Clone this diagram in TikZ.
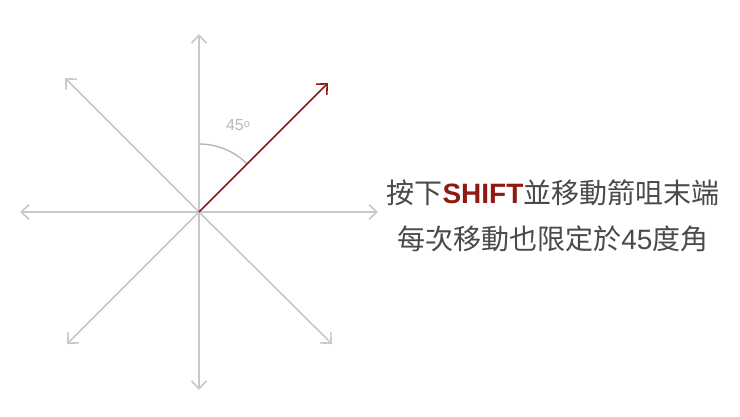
\documentclass[tikz,border=0pt]{standalone}
\usepackage{fontspec}
\setmainfont{Liberation Sans}
\newfontfamily\cjk{Noto Sans CJK TC}
\usetikzlibrary{arrows.meta}
\definecolor{linegray}{HTML}{C8C8C8}
\definecolor{txtgray}{HTML}{4A4A4A}
\definecolor{shiftred}{HTML}{8E1A12}
\definecolor{lblgray}{HTML}{B8B8B8}
\tikzset{
  ray/.style={draw=linegray, line width=1.6pt, -{Straight Barb[length=8pt,width=15pt,line width=1.6pt]}},
  redray/.style={draw=shiftred, line width=1.6pt, -{Straight Barb[length=8pt,width=15pt,line width=1.6pt]}},
  maintext/.style={text=txtgray, font=\fontsize{28}{30}\selectfont, inner sep=0pt, anchor=center},
}
\begin{document}
\begin{tikzpicture}[x=1pt,y=-1pt]
\useasboundingbox (0,0) rectangle (740,416);
\fill[white] (0,0) rectangle (740,416);
\coordinate (c) at (199,212);
\coordinate (n) at (199,34);
\coordinate (s) at (199,390);
\coordinate (w) at (20,212);
\coordinate (e) at (378,212);
\coordinate (nw) at (65,78);
\coordinate (sw) at (67,344);
\coordinate (se) at (332,344);
\coordinate (ne) at (328,83);
\draw[ray] (c) -- (n);
\draw[ray] (c) -- (s);
\draw[ray] (c) -- (w);
\draw[ray] (c) -- (e);
\draw[ray] (c) -- (nw);
\draw[ray] (c) -- (sw);
\draw[ray] (c) -- (se);
\draw[draw=lblgray, line width=1.4pt] ([shift={(0,-68)}]c) arc[start angle=-90, end angle=-45, radius=68];
\draw[redray] (c) -- (ne);
\node[text=lblgray, font=\fontsize{16}{18}\selectfont, inner sep=0pt] (lbl) at (238,125) {45\raisebox{0.4ex}{\fontsize{11}{12}\selectfont o}};
\node[maintext] (l1) at (553,193) {\cjk 按下\textbf{\color{shiftred}\rmfamily SHIFT}並移動箭咀末端};
\node[maintext] (l2) at (553,239) {\cjk 每次移動也限定於{\rmfamily 45}度角};
\end{tikzpicture}
\end{document}
